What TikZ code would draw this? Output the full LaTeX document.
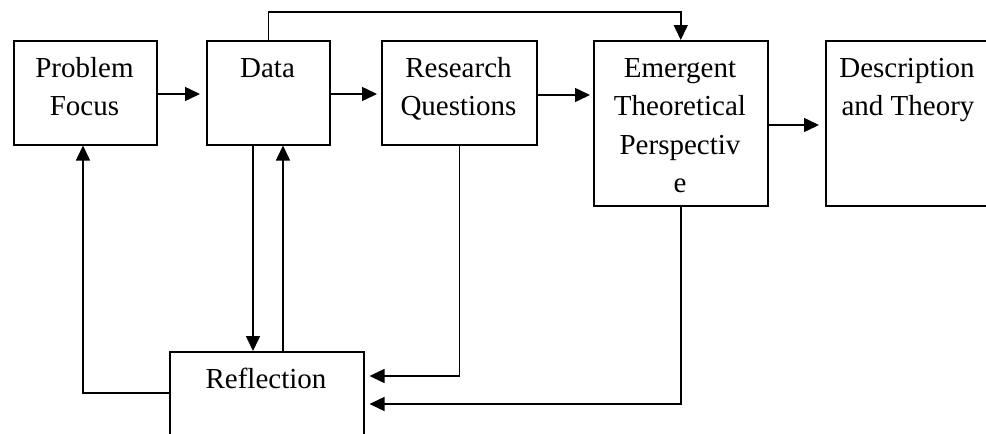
\documentclass[tikz,border=0pt]{standalone}
\usepackage{fontspec}
\setmainfont{Liberation Serif}
\usetikzlibrary{arrows.meta,calc}
\tikzset{
  box/.style={draw=black, line width=1.5pt, rectangle, inner sep=0pt, anchor=north west},
  lbl/.style={inner sep=0pt, anchor=base, font=\fontsize{29}{34}\selectfont},
  conn/.style={draw=black, line width=1.5pt},
  arr/.style={conn, -{Triangle[length=15pt,width=14pt]}}
}
\begin{document}
\begin{tikzpicture}[x=1pt,y=-1pt]
\path[use as bounding box, clip] (0,0) rectangle (986,434);
\fill[white] (0,0) rectangle (986,434);
% boxes
\node[box, minimum width=143pt, minimum height=104pt] (pf) at (13,40) {};
\node[box, minimum width=123pt, minimum height=104pt] (data) at (206,40) {};
\node[box, minimum width=155pt, minimum height=104pt] (rq) at (381,40) {};
\node[box, minimum width=174pt, minimum height=165pt] (em) at (593,40) {};
\node[box, minimum width=174pt, minimum height=165pt] (desc) at (825,40) {};
\node[box, minimum width=194pt, minimum height=120pt] (refl) at (169,351) {};
% labels
\node[lbl] (pf1) at (84.5,77) {Problem};
\node[lbl] (pf2) at (84.5,115) {Focus};
\node[lbl] (d1) at (267.5,77) {Data};
\node[lbl] (rq1) at (458.5,77) {Research};
\node[lbl] (rq2) at (458.5,115) {Questions};
\node[lbl] (em1) at (680,77) {Emergent};
\node[lbl] (em2) at (680,115.5) {Theoretical};
\node[lbl] (em3) at (680,154) {Perspectiv};
\node[lbl] (em4) at (680,192.5) {e};
\node[lbl] (de1) at (907,77) {Description};
\node[lbl] (de2) at (908,115) {and Theory};
\node[lbl] (re1) at (266,388) {Reflection};
% connectors
\draw[arr] ($(pf.north east)+(0,54)$) -- ($(data.north west)+(-6,54)$);
\draw[arr] ($(data.north east)+(0,54)$) -- ($(rq.north west)+(-4,54)$);
\draw[arr] ($(rq.north east)+(0,55)$) -- ($(em.north west)+(-3,55)$);
\draw[arr] ($(em.north east)+(0,85)$) -- ($(desc.north west)+(-6,85)$);
\coordinate (topl) at ($(data.north)+(0,-28)$);
\draw[arr] (data.north) -- (topl) -| (em.north);
\coordinate (lb) at ($(refl.north west)+(-86,42)$);
\draw[arr] ($(refl.north west)+(0,42)$) -- (lb) -- (lb |- pf.south);
\coordinate (dd) at ($(data.south west)+(47,0)$);
\coordinate (du) at ($(data.south west)+(77,0)$);
\draw[arr] (dd) -- (dd |- refl.north);
\draw[arr] (du |- refl.north) -- (du);
\draw[arr] (rq.south) |- ($(refl.north east)+(5,25)$);
\draw[arr] (em.south) |- ($(refl.north east)+(5,53)$);
\end{tikzpicture}
\end{document}
